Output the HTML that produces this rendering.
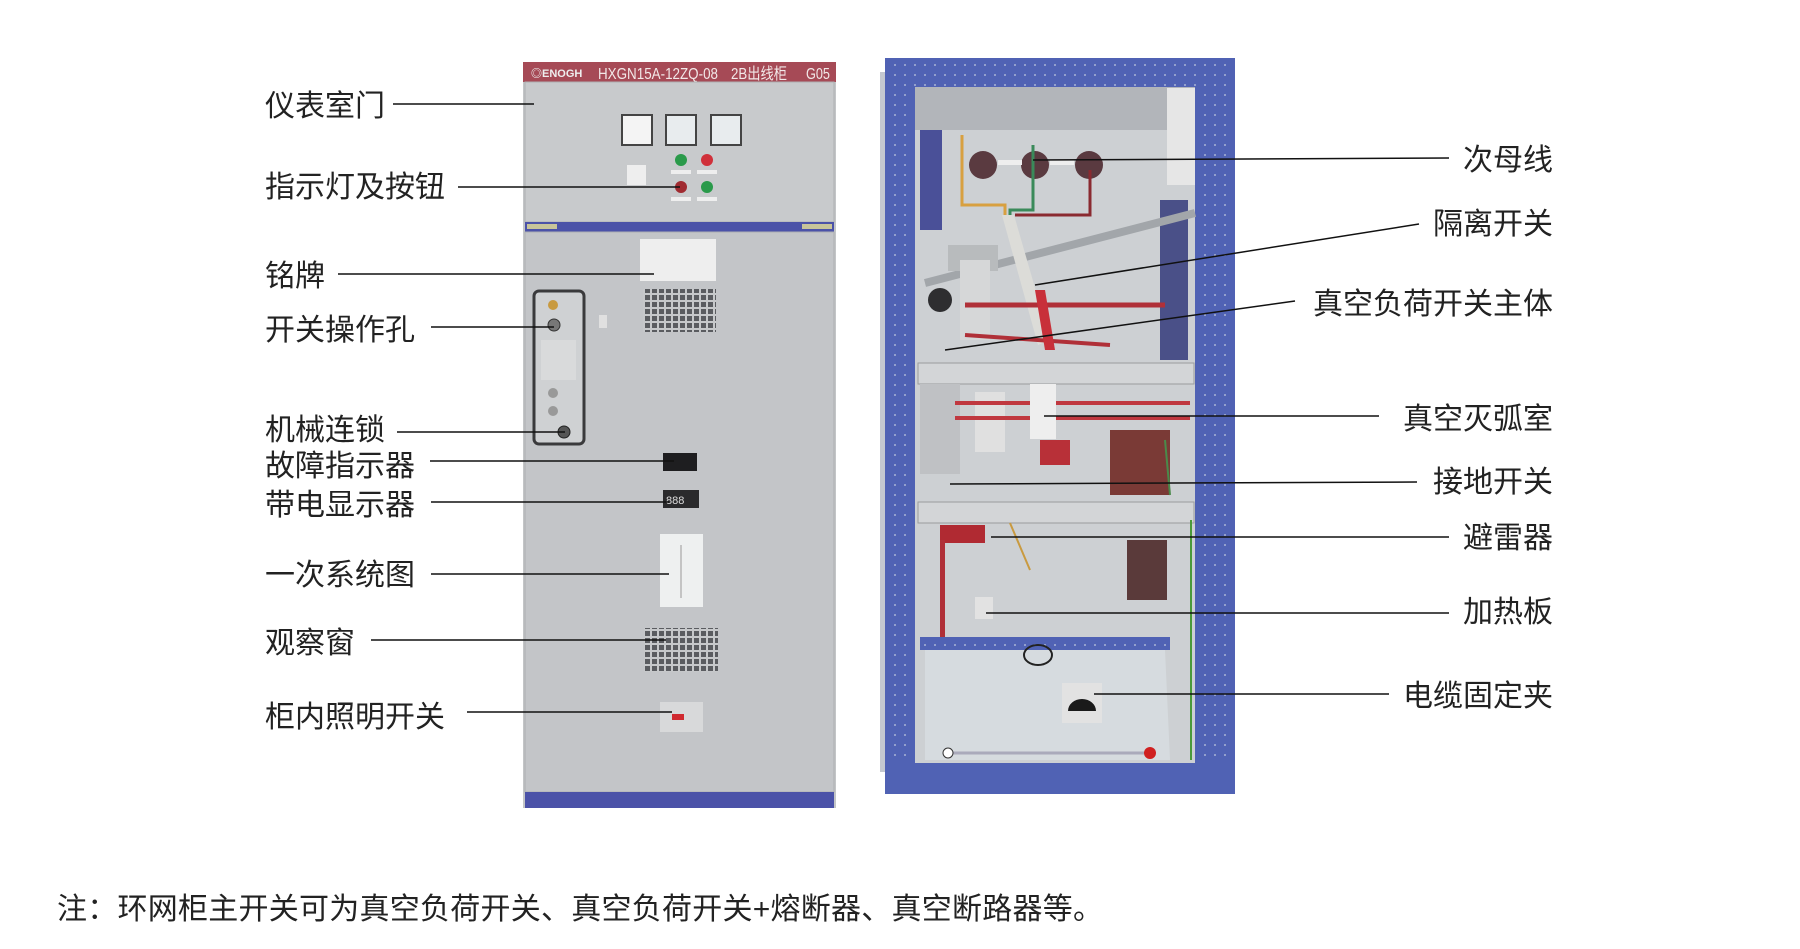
<!DOCTYPE html>
<html><head><meta charset="utf-8"><style>
html,body{margin:0;padding:0;background:#fff;}
svg{display:block;}
text{font-family:"Liberation Sans","Noto Sans CJK SC",sans-serif;}
</style></head><body>
<svg width="1800" height="949" viewBox="0 0 1800 949" xmlns="http://www.w3.org/2000/svg">
<defs>
<pattern id="gr" x="0" y="0" width="7" height="7" patternUnits="userSpaceOnUse">
<rect width="7" height="7" fill="#c6c8ca"/><rect x="1" y="1" width="5" height="5" fill="#5a5c60"/></pattern>
<pattern id="holes" x="0" y="0" width="10" height="10" patternUnits="userSpaceOnUse">
<rect width="10" height="10" fill="#5062b4"/><circle cx="5" cy="5" r="1" fill="#a9b2d4"/></pattern>
</defs>

<!-- LEFT CABINET -->
<rect x="523" y="62" width="313" height="746" fill="#c3c5c7"/>
<rect x="523" y="62" width="313" height="20" fill="#a64a56"/>
<text x="531" y="77" font-size="11" fill="#eee" font-weight="bold">◎ENOGH</text>
<text x="598" y="79" font-size="16" fill="#f2e8e8" textLength="120" lengthAdjust="spacingAndGlyphs">HXGN15A-12ZQ-08</text>
<text x="731" y="79" font-size="16" fill="#f2e8e8" textLength="56" lengthAdjust="spacingAndGlyphs">2B出线柜</text>
<text x="806" y="79" font-size="16" fill="#f2e8e8" textLength="24" lengthAdjust="spacingAndGlyphs">G05</text>
<rect x="525" y="82" width="309" height="140" fill="#c8cacc" stroke="#aeb0b2"/>
<rect x="622" y="115" width="30" height="30" fill="#f4f4f4" stroke="#444" stroke-width="2"/>
<rect x="666" y="115" width="30" height="30" fill="#e8ecee" stroke="#444" stroke-width="2"/>
<rect x="711" y="115" width="30" height="30" fill="#e8ecee" stroke="#444" stroke-width="2"/>
<circle cx="681" cy="160" r="6" fill="#2a9a4a"/><circle cx="707" cy="160" r="6" fill="#d0303a"/>
<circle cx="681" cy="187" r="6" fill="#a02a30"/><circle cx="707" cy="187" r="6" fill="#2a9a4a"/>
<rect x="671" y="170" width="20" height="4" fill="#eee"/><rect x="697" y="170" width="20" height="4" fill="#eee"/>
<rect x="671" y="197" width="20" height="4" fill="#eee"/><rect x="697" y="197" width="20" height="4" fill="#eee"/>
<rect x="627" y="165" width="19" height="20" fill="#eeeeee"/>
<rect x="525" y="222" width="309" height="10" fill="#4b52a8"/>
<rect x="527" y="224" width="30" height="5" fill="#c8c49a"/><rect x="802" y="224" width="30" height="5" fill="#c8c49a"/>
<rect x="525" y="232" width="309" height="560" fill="#c3c5c8" stroke="#aeb0b2"/>
<rect x="640" y="239" width="76" height="42" fill="#eeeeee"/>
<rect x="643" y="289" width="73" height="43" fill="url(#gr)"/>
<rect x="534" y="291" width="50" height="153" rx="5" fill="#cfd1d3" stroke="#3a3a3c" stroke-width="3"/>
<circle cx="553" cy="305" r="5" fill="#c89a40"/>
<circle cx="554" cy="325" r="6" fill="#777" stroke="#333"/>
<circle cx="553" cy="393" r="5" fill="#999"/><circle cx="553" cy="411" r="5" fill="#999"/>
<circle cx="564" cy="432" r="6" fill="#555" stroke="#222"/>
<rect x="541" y="340" width="35" height="40" fill="#d9dadb"/>
<rect x="599" y="315" width="8" height="13" fill="#e0e0e0"/>
<rect x="663" y="453" width="34" height="18" fill="#1e1e20"/>
<rect x="663" y="490" width="36" height="18" fill="#2a2a2c"/>
<text x="666" y="504" font-size="11" fill="#ddd">888</text>
<rect x="660" y="534" width="43" height="73" fill="#eef0f0"/>
<line x1="681" y1="545" x2="681" y2="598" stroke="#999"/>
<rect x="644" y="628" width="74" height="44" fill="url(#gr)"/>
<rect x="660" y="702" width="43" height="30" fill="#d8d9da"/>
<rect x="672" y="714" width="12" height="6" fill="#d02a30"/>
<rect x="525" y="792" width="309" height="16" fill="#4b52a8"/>

<!-- RIGHT CABINET -->
<rect x="880" y="72" width="6" height="700" fill="#c4c8d0"/>
<rect x="885" y="58" width="350" height="736" fill="#5062b4"/>
<rect x="887" y="60" width="346" height="26" fill="url(#holes)"/>
<rect x="889" y="88" width="24" height="675" fill="url(#holes)"/>
<rect x="1199" y="88" width="28" height="675" fill="url(#holes)"/>
<rect x="915" y="87" width="280" height="676" fill="#cdd0d3"/>
<rect x="915" y="87" width="280" height="43" fill="#b2b5ba"/>
<rect x="1167" y="88" width="28" height="97" fill="#e6e6e6"/>
<rect x="920" y="130" width="22" height="100" fill="#4a5098"/>
<rect x="1160" y="200" width="28" height="160" fill="#4a5088"/>
<circle cx="983" cy="165" r="14" fill="#5a3a40"/><circle cx="1035" cy="165" r="14" fill="#5a3a40"/><circle cx="1089" cy="165" r="14" fill="#5a3a40"/>
<rect x="998" y="160" width="24" height="5" fill="#eee"/><rect x="1050" y="160" width="24" height="5" fill="#eee"/>
<polyline points="962,135 962,205 1005,205 1005,215" fill="none" stroke="#d8a040" stroke-width="3"/>
<polyline points="1033,145 1033,210 1010,210 1010,215" fill="none" stroke="#3a8a5a" stroke-width="3"/>
<polyline points="1090,170 1090,215 1015,215" fill="none" stroke="#8a2a30" stroke-width="3"/>
<line x1="925" y1="283" x2="1195" y2="213" stroke="#a2a6aa" stroke-width="8"/>
<polygon points="1002,215 1014,215 1050,340 1038,345" fill="#dcdcd8"/>
<rect x="948" y="245" width="50" height="26" fill="#b8bbbd"/>
<rect x="960" y="260" width="30" height="80" fill="#d6d7d8"/>
<circle cx="940" cy="300" r="12" fill="#2e2e30"/>
<line x1="965" y1="305" x2="1165" y2="305" stroke="#b03038" stroke-width="5"/>
<line x1="965" y1="335" x2="1110" y2="345" stroke="#b03038" stroke-width="4"/>
<polygon points="1035,290 1045,290 1055,350 1045,350" fill="#c8303a"/>
<rect x="918" y="363" width="276" height="21" fill="#d3d5d7" stroke="#9a9c9e"/>
<rect x="920" y="384" width="40" height="90" fill="#bfc1c4"/>
<rect x="975" y="392" width="30" height="60" fill="#e0e0e0"/>
<line x1="955" y1="403" x2="1190" y2="403" stroke="#c03840" stroke-width="4"/>
<line x1="955" y1="418" x2="1190" y2="418" stroke="#c03840" stroke-width="4"/>
<rect x="1030" y="384" width="26" height="55" fill="#eeeeee"/>
<rect x="1110" y="430" width="60" height="65" fill="#7a3a36"/>
<rect x="1040" y="440" width="30" height="25" fill="#b83038"/>
<line x1="1165" y1="440" x2="1170" y2="495" stroke="#4a8a4a" stroke-width="2"/>
<rect x="918" y="502" width="276" height="21" fill="#d3d5d7" stroke="#9a9c9e"/>
<rect x="940" y="525" width="45" height="18" fill="#b02a32"/>
<rect x="1127" y="540" width="40" height="60" fill="#5a3a3a"/>
<line x1="1010" y1="523" x2="1030" y2="570" stroke="#c99a40" stroke-width="2"/>
<rect x="940" y="540" width="5" height="100" fill="#b03038"/>
<rect x="975" y="597" width="18" height="22" fill="#e2e2e2"/>
<rect x="920" y="637" width="250" height="13" fill="url(#holes)"/>
<polygon points="925,650 1165,650 1170,760 925,760" fill="#d6dbdf"/>
<rect x="1062" y="683" width="40" height="40" fill="#e2e2e2"/>
<path d="M1068 711 a14 12 0 0 1 28 0 z" fill="#1a1a1a"/>
<ellipse cx="1038" cy="655" rx="14" ry="10" fill="none" stroke="#222" stroke-width="2"/>
<line x1="948" y1="753" x2="1148" y2="753" stroke="#aab" stroke-width="3"/>
<circle cx="948" cy="753" r="5" fill="#fff" stroke="#333"/><circle cx="1150" cy="753" r="6" fill="#d02020"/>
<line x1="1191" y1="520" x2="1191" y2="760" stroke="#4a9a3a" stroke-width="2"/>
<rect x="887" y="763" width="346" height="31" fill="#5062b4"/>

<!-- LEFT LABELS -->
<g font-size="30" fill="#222">
<text x="265" y="116">仪表室门</text>
<text x="265" y="197">指示灯及按钮</text>
<text x="265" y="286">铭牌</text>
<text x="265" y="340">开关操作孔</text>
<text x="265" y="440">机械连锁</text>
<text x="265" y="476">故障指示器</text>
<text x="265" y="515">带电显示器</text>
<text x="265" y="585">一次系统图</text>
<text x="265" y="653">观察窗</text>
<text x="265" y="727">柜内照明开关</text>
</g>
<g stroke="#111" stroke-width="1.5">
<line x1="393" y1="104" x2="534" y2="104"/>
<line x1="458" y1="187" x2="680" y2="187"/>
<line x1="338" y1="274" x2="654" y2="274"/>
<line x1="431" y1="327" x2="554" y2="327"/>
<line x1="397" y1="432" x2="565" y2="432"/>
<line x1="430" y1="461" x2="674" y2="461"/>
<line x1="431" y1="502" x2="669" y2="502"/>
<line x1="431" y1="574" x2="669" y2="574"/>
<line x1="371" y1="640" x2="666" y2="640"/>
<line x1="467" y1="712" x2="672" y2="712"/>
</g>

<!-- RIGHT LABELS -->
<g font-size="30" fill="#222" text-anchor="end">
<text x="1553" y="170">次母线</text>
<text x="1553" y="234">隔离开关</text>
<text x="1553" y="314">真空负荷开关主体</text>
<text x="1553" y="429">真空灭弧室</text>
<text x="1553" y="492">接地开关</text>
<text x="1553" y="548">避雷器</text>
<text x="1553" y="622">加热板</text>
<text x="1553" y="706">电缆固定夹</text>
</g>
<g stroke="#111" stroke-width="1.5">
<line x1="1033" y1="160" x2="1449" y2="158"/>
<line x1="1035" y1="285" x2="1419" y2="224"/>
<line x1="945" y1="350" x2="1295" y2="301"/>
<line x1="1044" y1="416" x2="1379" y2="416"/>
<line x1="950" y1="484" x2="1417" y2="482"/>
<line x1="991" y1="537" x2="1449" y2="537"/>
<line x1="986" y1="613" x2="1449" y2="613"/>
<line x1="1094" y1="694" x2="1389" y2="694"/>
</g>

<text x="57" y="919" font-size="30" fill="#222" textLength="1046" lengthAdjust="spacing">注：环网柜主开关可为真空负荷开关、真空负荷开关+熔断器、真空断路器等。</text>
</svg>
</body></html>
